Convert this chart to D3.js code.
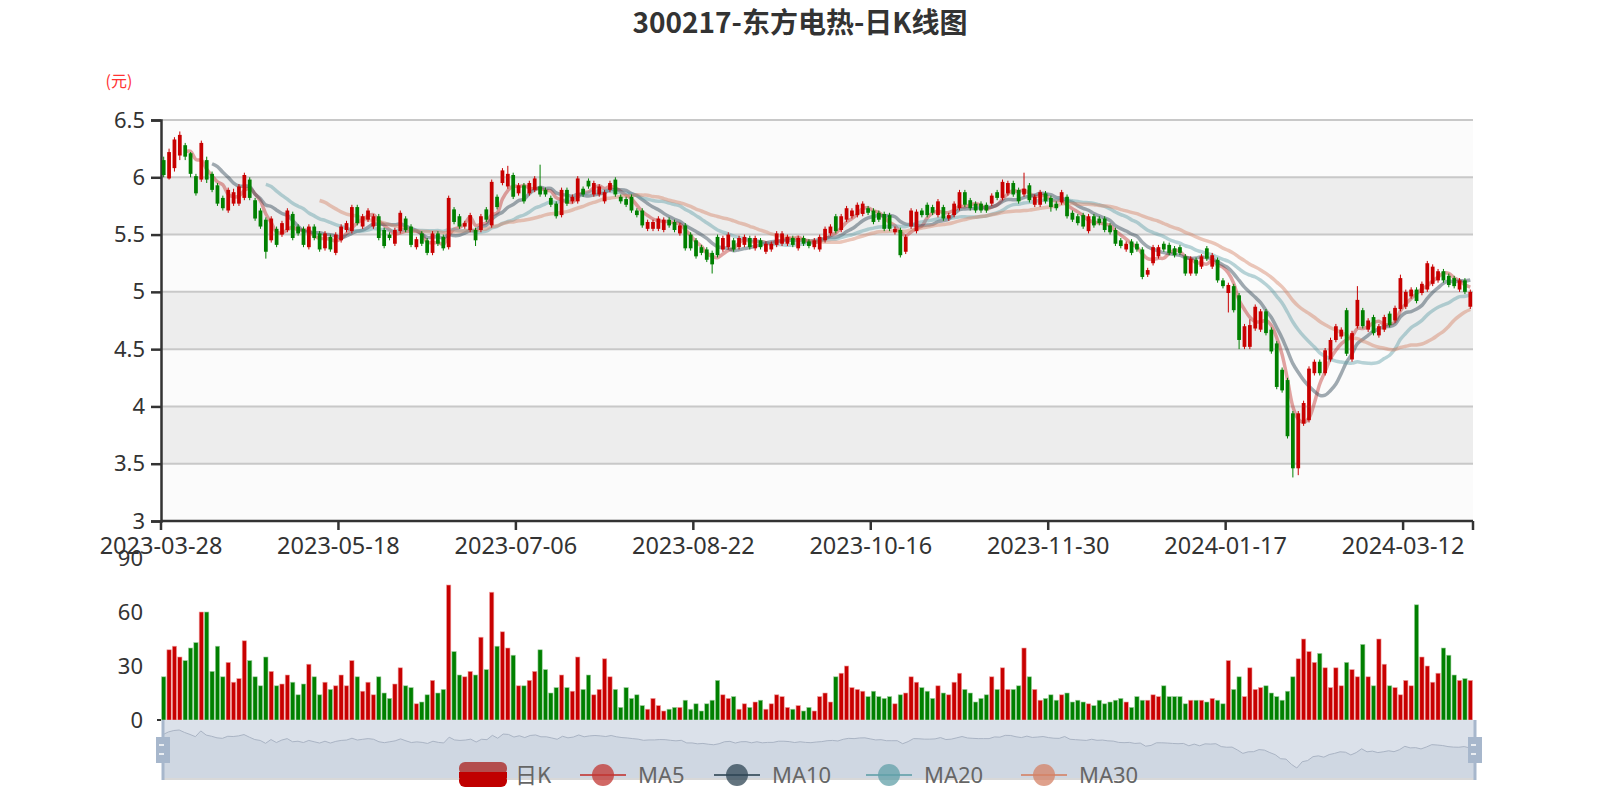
<!DOCTYPE html>
<html><head><meta charset="utf-8">
<script src="https://cdn.jsdelivr.net/npm/d3@7/dist/d3.min.js"></script>
<style>body{margin:0;background:#fff}svg{display:block;font-family:"Noto Sans","Noto Sans CJK SC",sans-serif}</style>
</head><body><svg id="c" width="1600" height="800"></svg>
<script>
const title = "300217-东方电热-日K线图";
const tickLabels = ["2023-03-28","2023-05-18","2023-07-06","2023-08-22","2023-10-16","2023-11-30","2024-01-17","2024-03-12"];
const tickEvery = 33;
const priceTicks = [3,3.5,4,4.5,5,5.5,6,6.5];
const volTicks = [0,30,60,90];
const seriesNames = ["日K","MA5","MA10","MA20","MA30"];
const maPeriods = [5,10,20,30];
// [open, close, low, high]
const candles = [
[6.15,6.02,6.00,6.18],[5.99,6.22,5.98,6.25],[6.08,6.33,6.05,6.35],[6.19,6.37,6.15,6.40],[6.28,6.18,6.15,6.30],
[6.21,6.03,6.00,6.22],[6.01,5.86,5.84,6.03],[5.98,6.30,5.96,6.32],[6.15,5.98,5.95,6.18],[6.03,5.89,5.87,6.05],
[5.93,5.77,5.75,5.95],[5.82,5.73,5.71,5.84],[5.71,5.89,5.69,5.91],[5.77,5.87,5.75,5.90],[5.77,5.92,5.75,5.94],
[5.82,6.02,5.80,6.04],[5.98,5.82,5.80,6.00],[5.80,5.64,5.62,5.82],[5.71,5.57,5.55,5.73],[5.63,5.35,5.29,5.65],
[5.45,5.64,5.43,5.66],[5.55,5.41,5.39,5.57],[5.50,5.60,5.48,5.62],[5.54,5.71,5.52,5.73],[5.68,5.47,5.45,5.70],
[5.57,5.51,5.49,5.59],[5.55,5.41,5.39,5.57],[5.39,5.57,5.37,5.59],[5.57,5.47,5.45,5.59],[5.51,5.37,5.35,5.53],
[5.38,5.51,5.36,5.53],[5.48,5.37,5.35,5.50],[5.34,5.50,5.32,5.52],[5.45,5.57,5.43,5.59],[5.54,5.60,5.52,5.62],
[5.53,5.74,5.51,5.76],[5.74,5.60,5.58,5.76],[5.57,5.66,5.55,5.68],[5.63,5.71,5.61,5.73],[5.57,5.66,5.55,5.68],
[5.66,5.47,5.45,5.68],[5.54,5.40,5.38,5.56],[5.50,5.47,5.45,5.52],[5.42,5.54,5.40,5.56],[5.53,5.69,5.51,5.71],
[5.64,5.54,5.52,5.66],[5.57,5.41,5.39,5.59],[5.39,5.46,5.37,5.48],[5.51,5.42,5.40,5.53],[5.45,5.34,5.32,5.47],
[5.34,5.51,5.32,5.53],[5.51,5.42,5.40,5.53],[5.48,5.38,5.36,5.50],[5.39,5.82,5.37,5.84],[5.72,5.61,5.59,5.74],
[5.66,5.57,5.55,5.68],[5.57,5.60,5.55,5.62],[5.54,5.67,5.52,5.69],[5.54,5.45,5.40,5.56],[5.54,5.66,5.52,5.68],
[5.72,5.63,5.61,5.74],[5.58,5.96,5.56,5.98],[5.83,5.74,5.72,5.85],[5.95,6.06,5.93,6.08],[5.92,6.03,5.90,6.10],
[6.02,5.83,5.81,6.04],[5.86,5.93,5.84,5.95],[5.93,5.79,5.77,5.95],[5.86,5.95,5.84,5.97],[5.89,5.99,5.87,6.01],
[5.92,5.85,5.83,6.11],[5.89,5.85,5.83,5.91],[5.82,5.76,5.74,5.84],[5.77,5.66,5.64,5.79],[5.67,5.89,5.65,5.91],
[5.89,5.77,5.75,5.91],[5.79,5.83,5.77,5.85],[5.79,5.99,5.77,6.01],[5.90,5.85,5.83,5.92],[5.97,5.92,5.90,5.99],
[5.85,5.95,5.83,5.97],[5.85,5.92,5.83,5.94],[5.79,5.87,5.77,5.89],[5.89,5.95,5.87,5.97],[5.98,5.85,5.83,6.00],
[5.83,5.79,5.77,5.85],[5.81,5.76,5.74,5.83],[5.83,5.71,5.69,5.85],[5.71,5.67,5.65,5.73],[5.71,5.58,5.56,5.73],
[5.55,5.61,5.53,5.63],[5.55,5.61,5.53,5.63],[5.55,5.64,5.53,5.66],[5.54,5.63,5.52,5.65],[5.63,5.58,5.56,5.65],
[5.61,5.54,5.52,5.63],[5.51,5.58,5.49,5.60],[5.58,5.38,5.36,5.60],[5.50,5.38,5.36,5.52],[5.45,5.31,5.29,5.47],
[5.39,5.34,5.32,5.41],[5.37,5.28,5.26,5.39],[5.34,5.24,5.16,5.36],[5.48,5.32,5.30,5.50],[5.37,5.47,5.35,5.49],
[5.39,5.50,5.37,5.52],[5.45,5.37,5.35,5.47],[5.39,5.47,5.37,5.49],[5.41,5.48,5.39,5.50],[5.47,5.39,5.37,5.49],
[5.38,5.47,5.36,5.49],[5.45,5.39,5.37,5.47],[5.35,5.42,5.33,5.44],[5.37,5.42,5.35,5.44],[5.41,5.51,5.39,5.53],
[5.42,5.51,5.40,5.53],[5.42,5.48,5.40,5.50],[5.47,5.41,5.39,5.49],[5.38,5.47,5.36,5.49],[5.47,5.42,5.40,5.49],
[5.44,5.40,5.38,5.46],[5.39,5.45,5.37,5.47],[5.37,5.48,5.35,5.50],[5.45,5.55,5.43,5.57],[5.51,5.57,5.49,5.59],
[5.66,5.53,5.51,5.68],[5.54,5.66,5.52,5.68],[5.63,5.73,5.61,5.75],[5.66,5.71,5.64,5.73],[5.67,5.76,5.65,5.78],
[5.68,5.77,5.66,5.79],[5.73,5.69,5.67,5.75],[5.71,5.61,5.59,5.73],[5.69,5.63,5.61,5.71],[5.68,5.55,5.53,5.70],
[5.67,5.55,5.53,5.69],[5.52,5.55,5.50,5.57],[5.54,5.32,5.30,5.56],[5.35,5.48,5.33,5.50],[5.57,5.71,5.55,5.73],
[5.53,5.70,5.51,5.72],[5.71,5.67,5.65,5.73],[5.76,5.67,5.65,5.78],[5.74,5.69,5.67,5.76],[5.67,5.79,5.65,5.81],
[5.74,5.64,5.62,5.76],[5.64,5.67,5.62,5.69],[5.67,5.77,5.65,5.79],[5.73,5.87,5.71,5.89],[5.87,5.76,5.74,5.89],
[5.80,5.73,5.71,5.82],[5.77,5.71,5.69,5.79],[5.77,5.71,5.69,5.79],[5.76,5.71,5.69,5.78],[5.77,5.84,5.75,5.86],
[5.87,5.82,5.80,5.89],[5.82,5.96,5.80,5.98],[5.86,5.95,5.84,5.97],[5.95,5.85,5.83,5.97],[5.89,5.79,5.77,5.91],
[5.85,5.90,5.83,6.04],[5.93,5.80,5.78,5.95],[5.76,5.83,5.74,5.85],[5.76,5.87,5.74,5.89],[5.86,5.79,5.77,5.88],
[5.82,5.74,5.70,5.84],[5.77,5.73,5.71,5.79],[5.78,5.87,5.76,5.89],[5.83,5.66,5.64,5.85],[5.69,5.63,5.61,5.71],
[5.66,5.60,5.58,5.68],[5.67,5.57,5.55,5.69],[5.53,5.66,5.51,5.68],[5.66,5.58,5.56,5.68],[5.64,5.60,5.58,5.66],
[5.64,5.54,5.52,5.66],[5.58,5.52,5.50,5.60],[5.54,5.42,5.40,5.56],[5.45,5.40,5.38,5.47],[5.37,5.42,5.35,5.44],
[5.44,5.34,5.32,5.46],[5.42,5.37,5.35,5.44],[5.37,5.13,5.11,5.39],[5.15,5.19,5.13,5.21],[5.25,5.39,5.23,5.41],
[5.31,5.39,5.29,5.41],[5.42,5.37,5.35,5.44],[5.41,5.34,5.32,5.43],[5.38,5.32,5.30,5.40],[5.39,5.34,5.32,5.41],
[5.31,5.16,5.14,5.33],[5.16,5.29,5.14,5.31],[5.28,5.16,5.14,5.30],[5.22,5.31,5.20,5.33],[5.38,5.29,5.27,5.40],
[5.22,5.32,5.20,5.34],[5.28,5.10,5.08,5.30],[5.10,5.05,5.03,5.12],[4.99,5.06,4.82,5.08],[5.05,4.84,4.82,5.07],
[4.97,4.58,4.50,4.99],[4.52,4.70,4.50,4.72],[4.52,4.71,4.50,4.76],[4.68,4.87,4.66,4.89],[4.67,4.83,4.65,4.85],
[4.83,4.64,4.62,4.85],[4.67,4.48,4.46,4.69],[4.55,4.17,4.15,4.57],[4.32,4.14,4.12,4.34],[4.23,3.74,3.72,4.25],
[3.94,3.46,3.38,3.96],[3.46,3.94,3.40,3.96],[3.85,4.03,3.83,4.05],[3.88,4.33,3.86,4.35],[4.29,4.39,4.27,4.41],
[4.39,4.29,4.27,4.41],[4.29,4.49,4.27,4.51],[4.41,4.58,4.39,4.60],[4.58,4.70,4.56,4.72],[4.61,4.67,4.59,4.69],
[4.84,4.46,4.44,4.86],[4.41,4.64,4.39,4.66],[4.70,4.93,4.68,5.05],[4.84,4.70,4.68,4.86],[4.67,4.75,4.65,4.77],
[4.78,4.64,4.62,4.80],[4.62,4.70,4.60,4.72],[4.67,4.78,4.65,4.80],[4.81,4.71,4.69,4.83],[4.75,4.86,4.73,4.88],
[4.85,5.12,4.83,5.15],[4.87,5.00,4.85,5.02],[4.96,5.02,4.94,5.04],[5.02,4.92,4.90,5.04],[4.99,5.07,4.97,5.09],
[5.02,5.25,5.00,5.27],[5.07,5.22,5.05,5.24],[5.10,5.18,5.08,5.20],[5.18,5.10,5.08,5.20],[5.14,5.06,5.04,5.16],
[5.12,5.05,5.03,5.14],[5.02,5.10,5.00,5.12],[5.10,5.00,4.98,5.12],[4.87,5.00,4.85,5.02]
];
const volumes = [24,39,41,35,33,40,43,60,60,27,41,24,32,21,23,44,33,24,19,35,27,19,20,25,21,14,20,31,24,14,
21,17,19,25,19,33,24,16,21,14,24,15,12,20,29,19,18,9,10,14,22,15,17,
75,38,25,24,27,25,46,28,71,41,49,40,36,19,19,22,27,39,28,15,18,25,18,16,35,17,25,14,17,34,24,17,7,18,12,
14,8,6,12,8,5,6,7,7,11,6,9,5,9,11,22,14,12,13,6,9,7,10,11,6,9,14,13,7,
6,8,5,7,5,13,15,10,24,26,
30,18,17,16,13,16,13,12,13,9,
14,15,24,21,18,16,12,19,15,14,
21,26,17,15,10,12,14,24,17,29,
17,17,19,40,24,17,11,12,14,11,
14,15,10,11,10,9,8,11,9,10,11,12,
10,7,13,11,11,14,13,19,13,13,
13,9,11,11,11,10,12,11,9,33,
17,24,13,29,17,18,19,15,13,11,
16,24,34,45,38,32,37,29,18,29,
19,32,28,24,42,24,19,45,31,19,
18,14,22,19,64,35,30,21,26,40,
36,25,22,23,22
];

const closes = candles.map(d=>d[1]);
const N = candles.length;
const UP="#c80000", DOWN="#008000";
const maColors=["#c23531","#2f4554","#61a0a8","#d48265"];
const svg=d3.select("#c");
const L=161,R=1473,T=120,B=521;
const x=d3.scaleBand().domain(d3.range(N)).range([L,R]);
const bw=x.bandwidth();
const y=d3.scaleLinear().domain([3,6.5]).range([B,T]);
const yv=d3.scaleLinear().domain([0,90]).range([720,558]);

svg.append("text").attr("x",800).attr("y",33).attr("text-anchor","middle").attr("font-size",28).attr("font-weight","bold").attr("fill","#333").style("font-family","'Noto Sans CJK SC'").text(title);
svg.append("text").attr("x",119).attr("y",87).attr("text-anchor","middle").attr("font-size",16).attr("fill","#ff3333").style("font-family","'Noto Sans CJK SC'").text("(元)");

for(let k=0;k<priceTicks.length-1;k++){
  const a=priceTicks[k],b=priceTicks[k+1];
  svg.append("rect").attr("x",L).attr("y",y(b)).attr("width",R-L).attr("height",y(a)-y(b)).attr("fill",k%2===0?"#fbfbfb":"#ededed");
}
priceTicks.forEach(t=>{ if(t>3) svg.append("line").attr("x1",L).attr("x2",R).attr("y1",y(t)).attr("y2",y(t)).attr("stroke","#c8c8c8").attr("stroke-width",2);});

const ya=svg.append("g").attr("transform",`translate(${L},0)`).call(d3.axisLeft(y).tickValues(priceTicks).tickSize(10).tickFormat(d3.format("")));
ya.select(".domain").attr("stroke","#333").attr("stroke-width",2.5);
ya.selectAll(".tick line").attr("stroke","#333").attr("stroke-width",2.5);
ya.selectAll("text").attr("font-size",22).attr("fill","#333").attr("x",-16).style("font-family","'Noto Sans'");

const tickIdx=tickLabels.map((_,k)=>k*tickEvery);
const xa=svg.append("g");
xa.append("line").attr("x1",L).attr("x2",R).attr("y1",B).attr("y2",B).attr("stroke","#333").attr("stroke-width",2.5);
tickIdx.concat([N]).forEach(i=>{const xx=i<N?x(i):R; xa.append("line").attr("x1",xx).attr("x2",xx).attr("y1",B).attr("y2",B+9).attr("stroke","#333").attr("stroke-width",2.5);});
tickIdx.forEach((i,k)=>xa.append("text").attr("x",x(i)).attr("y",554).attr("text-anchor","middle").attr("font-size",23.5).attr("fill","#333").text(tickLabels[k]));

maPeriods.forEach((p,k)=>{
  const pts=[];
  for(let i=p-1;i<N;i++){pts.push([i,d3.mean(closes.slice(i-p+1,i+1))]);}
  svg.append("path").attr("d",d3.line().x(d=>x(d[0])+bw/2).y(d=>y(d[1])).curve(d3.curveCatmullRom)(pts))
    .attr("fill","none").attr("stroke",maColors[k]).attr("stroke-width",3.5).attr("stroke-opacity",0.45);
});

const cw=bw*0.7;
const cg=svg.append("g");
candles.forEach((d,i)=>{
  const [o,c,l,h]=d; const col=c>=o?UP:DOWN; const cx=x(i)+bw/2;
  cg.append("line").attr("x1",cx).attr("x2",cx).attr("y1",y(h)).attr("y2",y(l)).attr("stroke",col).attr("stroke-width",1);
  const top=y(Math.max(o,c)), hh=Math.max(1,Math.abs(y(o)-y(c)));
  cg.append("rect").attr("x",cx-cw/2).attr("y",top).attr("width",cw).attr("height",hh).attr("fill",col);
});

const vg=svg.append("g");
volumes.forEach((v,i)=>{
  if(i>=N) return;
  const up=candles[i][1]>=candles[i][0];
  vg.append("rect").attr("x",x(i)+bw*0.1).attr("y",yv(v)).attr("width",bw*0.8).attr("height",yv(0)-yv(v))
    .attr("fill",up?UP:DOWN).attr("stroke",up?"#f0a0a0":"#a0d0a0").attr("stroke-width",0.6);
});
volTicks.forEach(t=>svg.append("text").attr("x",143).attr("y",yv(t)+8).attr("text-anchor","end").attr("font-size",22).attr("fill","#333").text(t));
svg.append("line").attr("x1",157).attr("x2",161).attr("y1",720).attr("y2",720).attr("stroke","#333").attr("stroke-width",2);

const sL=163,sR=1475,sT=720,sB=779;
svg.append("rect").attr("x",sL).attr("y",sT).attr("width",sR-sL).attr("height",sB-sT).attr("fill","#dbe1ea");
const sy=d3.scaleLinear().domain(d3.extent(closes)).range([768,730]);
const sx=d3.scaleLinear().domain([0,N-1]).range([sL,sR]);
svg.append("path").attr("d",d3.area().x((d,i)=>sx(i)).y0(sB).y1(d=>sy(d))(closes)).attr("fill","#cfd7e2");
svg.append("path").attr("d",d3.line().x((d,i)=>sx(i)).y(d=>sy(d))(closes)).attr("fill","none").attr("stroke","#aab4c4").attr("stroke-width",1);
svg.append("line").attr("x1",sL).attr("x2",sR).attr("y1",sB).attr("y2",sB).attr("stroke","#d8d8d8").attr("stroke-width",2);
[sL,sR].forEach(hx=>{
  svg.append("line").attr("x1",hx).attr("x2",hx).attr("y1",sT).attr("y2",sB+1).attr("stroke","#a7b7cc").attr("stroke-width",3);
  svg.append("rect").attr("x",hx-7).attr("y",737).attr("width",14).attr("height",26).attr("fill","#a7b7cc");
  [745,754].forEach(yy=>svg.append("line").attr("x1",hx-4).attr("x2",hx+1).attr("y1",yy).attr("y2",yy).attr("stroke","#fff").attr("stroke-width",1.5));
});

const lg=svg.append("g");
const ly=775;
lg.append("rect").attr("x",459).attr("y",ly-13).attr("width",48).attr("height",13).attr("rx",6).attr("fill","#b34d4d");
lg.append("rect").attr("x",459).attr("y",ly-1).attr("width",48).attr("height",13).attr("rx",6).attr("fill","#c00000");
lg.append("rect").attr("x",459).attr("y",ly-3).attr("width",48).attr("height",6).attr("fill","#c00000");
lg.append("text").attr("x",515).attr("y",ly+8).attr("font-size",22).attr("fill","#666").style("font-family","'Noto Sans CJK SC'").text(seriesNames[0]);
const icX=[580,714,866,1021];
maPeriods.forEach((p,k)=>{
  const cx=icX[k]+23;
  lg.append("line").attr("x1",icX[k]).attr("x2",icX[k]+46).attr("y1",ly).attr("y2",ly).attr("stroke",maColors[k]).attr("stroke-width",2).attr("opacity",0.8);
  lg.append("circle").attr("cx",cx).attr("cy",ly).attr("r",11).attr("fill",maColors[k]).attr("opacity",0.75);
  lg.append("text").attr("x",icX[k]+58).attr("y",ly+8).attr("font-size",22).attr("fill","#666").text(seriesNames[k+1]);
});
</script></body></html>
